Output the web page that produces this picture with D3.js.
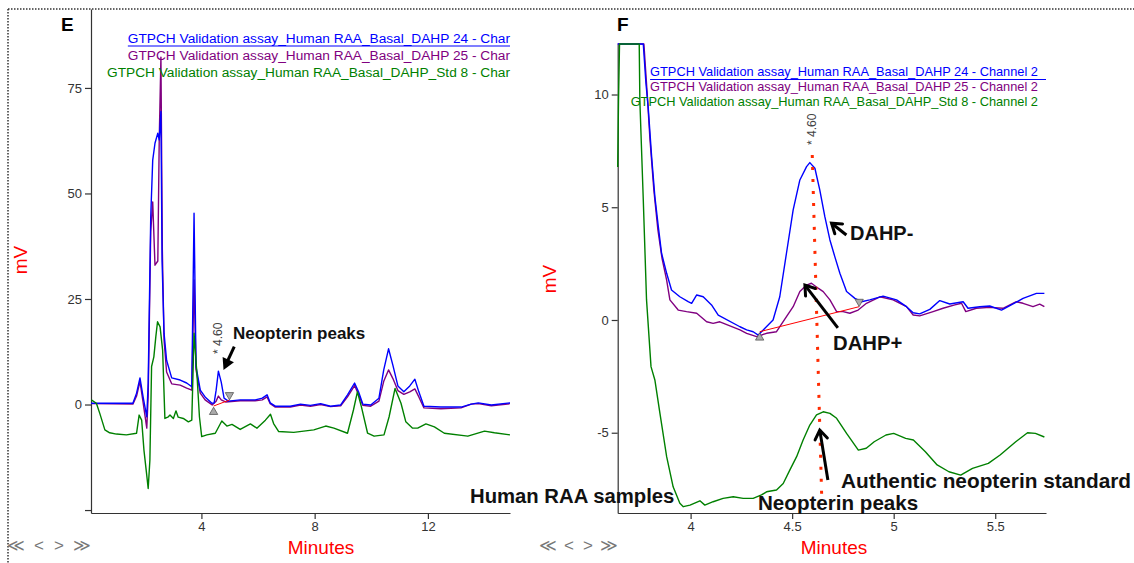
<!DOCTYPE html>
<html lang="en">
<head>
  <meta charset="UTF-8">
  <title>GTPCH validation chromatograms</title>
  <script src="https://d3js.org/d3.v7.min.js"></script>
  <style>
    body { margin: 0; background: #fff; }
    svg { display: block; font-family: "Liberation Sans", Arial, sans-serif; }
    .axis path, .axis line { stroke: #333; stroke-width: 1.2px; }
    .axis text { fill: #333; font-size: 13px; font-family: "Liberation Sans", Arial, sans-serif; }
    .trace { fill: none; stroke-width: 1.4px; stroke-linejoin: round; }
    .note { font-weight: bold; fill: #111; }
  </style>
</head>
<body>
<svg id="chart" width="1134" height="563"></svg>
<script>
  // ---- data (time in minutes, signal in mV) ----

  // panel E: full run
  const eDahp24 = [[0.1,0.3],[1.58,0.3],[1.71,2.7],[1.83,6.3],[1.94,1.8],[2.07,-2.9],[2.12,5.1],[2.21,44.5],[2.28,57.9],[2.36,61.9],[2.46,64.3],[2.51,62.7],[2.57,69.4],[2.61,34.2],[2.68,16.9],[2.77,10.5],[2.95,6.3],[3.25,5.8],[3.48,5.1],[3.66,4.2],[3.74,45.3],[3.81,9.0],[3.96,3.4],[4.13,1.8],[4.37,0.3],[4.45,0.4],[4.52,3.4],[4.60,7.9],[4.70,5.3],[4.80,1.5],[4.95,0.8],[5.37,1.1],[5.90,1.1],[6.15,1.5],[6.32,2.3],[6.43,0.4],[6.61,-0.4],[7.14,-0.4],[7.5,0.1],[7.85,-0.2],[8.21,0.2],[8.56,-0.4],[8.92,-0.1],[9.16,2.3],[9.41,5.1],[9.55,3.0],[9.70,0.1],[9.98,-0.1],[10.27,1.5],[10.44,8.2],[10.61,13.2],[10.76,9.4],[10.94,4.4],[11.15,3.0],[11.36,4.4],[11.54,6.0],[11.68,3.0],[11.86,-0.4],[12.46,-0.6],[13.17,-0.6],[13.53,0.1],[13.78,0.4],[14.24,-0.1],[14.9,0.4]];
  const eDahp25 = [[0.1,0.2],[1.58,0.1],[1.71,2.0],[1.83,5.5],[1.94,0.5],[2.07,-5.6],[2.12,2.0],[2.21,41],[2.28,48],[2.36,33],[2.46,34],[2.51,62.7],[2.57,82.3],[2.62,36.6],[2.68,15.3],[2.77,7.7],[2.95,4.9],[3.25,4.6],[3.48,3.9],[3.66,3.4],[3.74,29.5],[3.81,8.2],[3.96,2.7],[4.13,1.1],[4.38,-0.1],[4.52,0.8],[4.60,2.0],[4.70,1.1],[4.85,0.6],[5.37,0.9],[5.90,0.9],[6.15,1.1],[6.32,1.8],[6.43,0.2],[6.61,-0.6],[7.14,-0.6],[7.5,-0.1],[7.85,-0.4],[8.21,0.0],[8.56,-0.5],[8.92,-0.3],[9.16,1.8],[9.41,4.5],[9.55,2.4],[9.70,-0.2],[9.98,-0.4],[10.27,0.8],[10.44,5.5],[10.61,8.2],[10.76,6.2],[10.94,3.3],[11.15,2.4],[11.36,3.0],[11.54,3.7],[11.68,1.8],[11.86,-0.8],[12.46,-1.0],[13.17,-0.8],[13.53,0.1],[13.78,0.2],[14.24,-0.3],[14.9,0.2]];
  const eStd8 = [[0.11,1.1],[0.29,0.3],[0.41,-2.1],[0.59,-6.0],[0.76,-6.7],[1.0,-7.0],[1.35,-7.2],[1.71,-6.8],[1.80,-2.5],[1.89,-3.7],[1.97,-10.8],[2.06,-16.2],[2.12,-19.9],[2.18,-13.2],[2.24,9.0],[2.32,11.3],[2.39,16.1],[2.45,19.6],[2.54,18.4],[2.63,12.9],[2.71,-3.3],[2.83,-2.9],[2.89,-2.5],[3.01,-3.3],[3.10,-1.5],[3.18,-3.0],[3.36,-3.3],[3.54,-4.1],[3.66,-3.7],[3.74,16.9],[3.84,7.4],[3.93,-2.9],[4.01,-7.6],[4.19,-7.2],[4.49,-6.8],[4.72,-3.9],[4.90,-5.1],[5.08,-4.7],[5.37,-5.9],[5.73,-4.6],[5.96,-5.6],[6.26,-3.7],[6.44,-2.3],[6.55,-4.5],[6.73,-6.4],[7.26,-6.6],[7.97,-6.0],[8.39,-5.1],[8.68,-5.6],[9.16,-6.8],[9.37,-1.3],[9.51,3.0],[9.65,-0.5],[9.87,-6.8],[10.10,-7.5],[10.45,-7.2],[10.63,-2.9],[10.84,3.8],[11.05,0.3],[11.22,-4.1],[11.46,-5.6],[11.64,-5.6],[11.93,-4.6],[12.23,-5.3],[12.58,-6.8],[13.41,-7.5],[14.00,-6.3],[14.35,-6.7],[14.9,-7.2]];

  // panel F: zoom on the neopterin window (values above the top are off scale)
  const fDahp24 = [[3.641,14],[3.767,12.5],[3.780,10.50],[3.791,9.46],[3.808,7.25],[3.824,5.47],[3.841,4.14],[3.857,2.96],[3.882,2.07],[3.906,1.33],[3.947,1.03],[3.988,0.81],[4.005,0.74],[4.030,1.11],[4.062,1.03],[4.103,0.67],[4.136,0.22],[4.243,-0.30],[4.276,-0.44],[4.308,-0.52],[4.333,-0.67],[4.366,-0.37],[4.406,0],[4.439,1.03],[4.472,2.96],[4.505,4.88],[4.538,6.21],[4.571,6.80],[4.587,6.98],[4.612,6.73],[4.636,5.77],[4.661,4.58],[4.686,3.55],[4.710,2.81],[4.735,2.07],[4.768,1.26],[4.809,0.96],[4.842,0.81],[4.882,0.89],[4.948,1.06],[5.014,0.89],[5.063,0.59],[5.096,0.32],[5.128,0.27],[5.178,0.47],[5.227,0.86],[5.276,0.71],[5.342,0.81],[5.366,0.52],[5.424,0.59],[5.473,0.62],[5.531,0.44],[5.588,0.71],[5.637,0.96],[5.703,1.18],[5.742,1.18]];
  const fDahp25 = [[3.641,14],[3.770,12.5],[3.785,10.20],[3.800,7.99],[3.819,5.77],[3.839,3.99],[3.859,2.75],[3.882,1.77],[3.898,0.89],[3.939,0.44],[3.980,0.37],[4.030,0.30],[4.079,-0.08],[4.111,-0.15],[4.144,-0.08],[4.243,-0.44],[4.276,-0.59],[4.325,-0.74],[4.374,-0.59],[4.423,-0.52],[4.472,0.15],[4.505,0.59],[4.538,1.26],[4.571,1.55],[4.595,1.63],[4.628,1.41],[4.653,1.26],[4.686,0.89],[4.719,0.37],[4.751,0.37],[4.784,0.30],[4.825,0.44],[4.866,0.74],[4.932,1.03],[4.997,0.89],[5.063,0.59],[5.096,0.22],[5.128,0.18],[5.194,0.37],[5.243,0.52],[5.301,0.67],[5.334,0.74],[5.355,0.37],[5.407,0.52],[5.473,0.56],[5.538,0.52],[5.604,0.81],[5.637,0.74],[5.686,0.59],[5.719,0.70],[5.742,0.59]];
  const fStd8 = [[3.641,6.79],[3.645,9.76],[3.650,14],[3.747,14],[3.750,9.76],[3.767,5.32],[3.783,0.89],[3.805,-2.07],[3.824,-2.66],[3.849,-4.14],[3.882,-6.06],[3.914,-7.40],[3.947,-8.13],[3.964,-8.28],[3.997,-8.21],[4.046,-8.02],[4.070,-8.21],[4.111,-8.06],[4.160,-7.91],[4.210,-7.84],[4.259,-7.91],[4.308,-7.91],[4.349,-7.76],[4.374,-7.62],[4.423,-7.54],[4.456,-7.25],[4.489,-6.65],[4.522,-6.06],[4.554,-5.32],[4.587,-4.66],[4.620,-4.21],[4.653,-4.07],[4.686,-4.14],[4.719,-4.36],[4.768,-5.03],[4.826,-5.77],[4.865,-5.69],[4.904,-5.40],[4.962,-5.10],[5.000,-5.03],[5.059,-5.25],[5.097,-5.32],[5.156,-5.84],[5.214,-6.43],[5.272,-6.73],[5.330,-6.88],[5.388,-6.58],[5.466,-6.36],[5.524,-5.99],[5.601,-5.40],[5.659,-5.00],[5.698,-5.03],[5.742,-5.19]];

  // integration baselines, retention-time drop line and arrows (data units)
  const eBaseline = [[4.43,-0.36],[4.99,1.07]];
  const fBaseline = [[4.34,-0.52],[4.83,0.59]];
  const fDropLine = [[4.599,7.32],[4.646,-7.99]];
  const eArrows = [{ from: [5.16,13.7], to: [4.78,8.2] }];
  const fArrows = [
    { from: [4.767,3.77], to: [4.694,4.29] },
    { from: [4.725,-0.35], to: [4.563,1.55] },
    { from: [4.676,-7.10], to: [4.636,-4.88] }
  ];
  const peakTime = 4.60;

  // ticks and labels
  const eXTicks = [4, 8, 12];
  const eYTicks = [75, 50, 25, 0, -25];
  const fXTicks = [4, 4.5, 5, 5.5];
  const fYTicks = [10, 5, 0, -5];
  const eLegend = [
    "GTPCH Validation assay_Human RAA_Basal_DAHP 24 - Char",
    "GTPCH Validation assay_Human RAA_Basal_DAHP 25 - Char",
    "GTPCH Validation assay_Human RAA_Basal_DAHP_Std 8 - Char"
  ];
  const fLegend = [
    "GTPCH Validation assay_Human RAA_Basal_DAHP 24 - Channel 2",
    "GTPCH Validation assay_Human RAA_Basal_DAHP 25 - Channel 2",
    "GTPCH Validation assay_Human RAA_Basal_DAHP_Std 8 - Channel 2"
  ];
  const traceColors = ["#0000ff", "#800080", "#008000"];

  const svg = d3.select("#chart");

  // dotted frame round the figure
  svg.append("path")
    .attr("d", "M8,9H1134M8,9V563")
    .attr("fill", "none")
    .attr("stroke", "#333")
    .attr("stroke-width", 1.5)
    .attr("stroke-dasharray", "1.5,1.5");

  function drawPanel(p) {
    const x = d3.scaleLinear().domain(p.xDomain).range(p.xRange);
    const y = d3.scaleLinear().domain(p.yDomain).range(p.yRange).clamp(true);
    const g = svg.append("g");

    // axes
    g.append("g").attr("class", "axis")
      .attr("transform", `translate(0,${p.yRange[0]})`)
      .call(d3.axisBottom(x).tickValues(p.xTicks).tickSize(6).tickSizeOuter(0)
        .tickFormat(d3.format("~g")));
    g.append("g").attr("class", "axis")
      .attr("transform", `translate(${p.xRange[0]},0)`)
      .call(d3.axisLeft(y).tickValues(p.yTicks).tickSize(6).tickSizeOuter(0)
        .tickFormat(d => (d < p.yDomain[0] + 1 ? "" : d)));

    // traces: purple under blue, green last
    const line = d3.line().x(d => x(d[0])).y(d => y(d[1]));
    [[p.series[1], traceColors[1]], [p.series[0], traceColors[0]], [p.series[2], traceColors[2]]]
      .forEach(([s, c]) => {
        g.append("path").datum(s).attr("class", "trace").attr("stroke", c).attr("d", line);
      });

    // integration baseline with its start / end markers
    g.append("path").datum(p.baseline)
      .attr("fill", "none").attr("stroke", "#ff0000").attr("stroke-width", 1)
      .attr("d", line);
    const tri = d3.symbol(d3.symbolTriangle, 30);
    g.append("path").attr("d", tri())
      .attr("transform", `translate(${x(p.baseline[0][0])},${y(p.baseline[0][1]) + 6})`)
      .attr("fill", "#aaa").attr("stroke", "#555").attr("stroke-width", 0.8);
    g.append("path").attr("d", tri())
      .attr("transform", `translate(${x(p.baseline[1][0])},${y(p.baseline[1][1]) - 5}) rotate(180)`)
      .attr("fill", "#aaa").attr("stroke", "#555").attr("stroke-width", 0.8);

    // retention time label
    g.append("text")
      .attr("transform", `translate(${x(peakTime) + 4},${p.rtLabelY}) rotate(-90)`)
      .attr("font-size", 12).attr("fill", "#444")
      .text("* 4.60");

    // legend, first entry underlined
    p.legend.forEach((t, i) => {
      const tx = g.append("text")
        .attr("x", p.legendX).attr("y", p.legendY + i * p.legendGap)
        .attr("text-anchor", "end")
        .attr("font-size", p.legendSize)
        .attr("fill", traceColors[i])
        .text(t);
      if (i === 0) {
        const bb = tx.node().getBBox();
        g.append("line")
          .attr("x1", bb.x).attr("x2", p.xRange[1])
          .attr("y1", p.legendY + 3.5).attr("y2", p.legendY + 3.5)
          .attr("stroke", traceColors[0]).attr("stroke-width", 1.2);
      }
    });

    // panel letter and axis titles
    g.append("text").attr("x", p.letterX).attr("y", 31)
      .attr("font-size", 19).attr("font-weight", "bold").text(p.letter);
    g.append("text")
      .attr("transform", `translate(${p.mvX},${p.mvY}) rotate(-90)`)
      .attr("text-anchor", "middle").attr("font-size", 19).attr("fill", "#ff0000")
      .text("mV");
    g.append("text")
      .attr("x", p.minutesX).attr("y", 554)
      .attr("text-anchor", "middle").attr("font-size", 19).attr("fill", "#ff0000")
      .text("Minutes");

    // scroll buttons under the panel
    p.navX.forEach((nx, i) => {
      g.append("text").attr("x", nx).attr("y", 551)
        .attr("text-anchor", "middle").attr("font-size", 17).attr("fill", "#777")
        .text(["\u226A", "<", ">", "\u226B"][i]);
    });

    return { x, y, g };
  }

  function arrow(g, x, y, a, filled) {
    const x1 = x(a.from[0]), y1 = y(a.from[1]), x2 = x(a.to[0]), y2 = y(a.to[1]);
    const ang = Math.atan2(y2 - y1, x2 - x1);
    const len = filled ? 13 : 11, spread = filled ? 0.5 : 0.6;
    const p1 = [x2 - len * Math.cos(ang - spread), y2 - len * Math.sin(ang - spread)];
    const p2 = [x2 - len * Math.cos(ang + spread), y2 - len * Math.sin(ang + spread)];
    if (filled) {
      const bx = x2 - len * 0.8 * Math.cos(ang), by = y2 - len * 0.8 * Math.sin(ang);
      g.append("line").attr("x1", x1).attr("y1", y1).attr("x2", bx).attr("y2", by)
        .attr("stroke", "#000").attr("stroke-width", 3);
      g.append("path").attr("d", `M${x2},${y2}L${p1}L${p2}Z`).attr("fill", "#000");
    } else {
      g.append("line").attr("x1", x1).attr("y1", y1).attr("x2", x2).attr("y2", y2)
        .attr("stroke", "#000").attr("stroke-width", 3);
      g.append("path").attr("d", `M${p1}L${x2},${y2}L${p2}`)
        .attr("fill", "none").attr("stroke", "#000").attr("stroke-width", 3)
        .attr("stroke-linecap", "round").attr("stroke-linejoin", "miter");
    }
  }

  const E = drawPanel({
    letter: "E", letterX: 61,
    xDomain: [0.1, 14.9], xRange: [91, 510],
    yDomain: [-25.7, 93.7], yRange: [513, 9],
    xTicks: eXTicks, yTicks: eYTicks,
    series: [eDahp24, eDahp25, eStd8],
    baseline: eBaseline,
    rtLabelY: 354,
    legend: eLegend, legendX: 510, legendY: 42.5, legendGap: 17, legendSize: 13.7,
    mvX: 27, mvY: 260, minutesX: 321,
    navX: [16, 39, 59, 82]
  });

  const F = drawPanel({
    letter: "F", letterX: 617,
    xDomain: [3.641, 5.75], xRange: [617.7, 1046],
    yDomain: [-8.56, 12.24], yRange: [513, 44],
    xTicks: fXTicks, yTicks: fYTicks,
    series: [fDahp24, fDahp25, fStd8],
    baseline: fBaseline,
    rtLabelY: 145,
    legend: fLegend, legendX: 1038, legendY: 76, legendGap: 15, legendSize: 12.8,
    mvX: 556, mvY: 279, minutesX: 834,
    navX: [548, 569, 588, 609]
  });

  // red dotted retention-time line through the standard
  F.g.append("line")
    .attr("x1", F.x(fDropLine[0][0])).attr("y1", F.y(fDropLine[0][1]))
    .attr("x2", F.x(fDropLine[1][0])).attr("y2", F.y(fDropLine[1][1]))
    .attr("stroke", "#ff2a00").attr("stroke-width", 3).attr("stroke-dasharray", "3,9");

  eArrows.forEach(a => arrow(E.g, E.x, E.y, a, true));
  fArrows.forEach(a => arrow(F.g, F.x, F.y, a, false));

  // bold annotations
  const notes = [
    { text: "Neopterin peaks", x: 233, y: 339, size: 17 },
    { text: "Human RAA samples", x: 470, y: 503, size: 20.3 },
    { text: "DAHP-", x: 850, y: 240, size: 20 },
    { text: "DAHP+", x: 833, y: 350, size: 20.3 },
    { text: "Authentic neopterin standard", x: 841, y: 488, size: 20.8 },
    { text: "Neopterin peaks", x: 758, y: 510, size: 20.6 }
  ];
  svg.selectAll(".note").data(notes).enter().append("text")
    .attr("class", "note")
    .attr("x", d => d.x).attr("y", d => d.y)
    .attr("font-size", d => d.size)
    .text(d => d.text);
</script>
</body>
</html>
